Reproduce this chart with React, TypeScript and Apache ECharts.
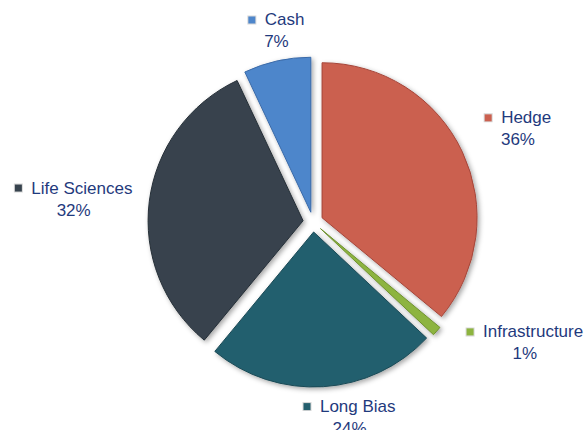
import React, { useEffect, useRef } from 'react';
import * as echarts from 'echarts';

const categories = ['Hedge', 'Infrastructure', 'Long Bias', 'Life Sciences', 'Cash'];
const values = [36, 1, 24, 32, 7];
const colors = ['#CB604F', '#8DB43F', '#245F6E', '#37434E', '#4E86CB'];
const borderColors = ['#A5463A', '#6F9130', '#1A4A56', '#262F37', '#3A6AA8'];
// small per-label adjustments (px) of the label block centre
const labelNudge = [[7, -5], [29, -16], [22, -11], [3, 3], [10, 11]];

const TEXT_COLOR = '#1F3A7D';
const FONT = '"Liberation Sans", Arial, sans-serif';
const CX = 313;
const CY = 222;
const RADIUS = 155;
const OFFSET = 10;
const LABEL_GAP = 20;

export default function App() {
  const ref = useRef<HTMLDivElement>(null);
  useEffect(() => {
    document.body.style.margin = '0';
    const chart = echarts.init(ref.current!, null, { renderer: 'svg' });
    const rich: any = {
      name: { color: TEXT_COLOR, fontSize: 17, fontFamily: FONT, lineHeight: 22 },
      pct: { color: TEXT_COLOR, fontSize: 17, fontFamily: FONT, lineHeight: 22 },
    };
    colors.forEach((c, i) => {
      rich['ic' + i] = { width: 7, height: 7, backgroundColor: c, borderColor: '#d8d8d8', borderWidth: 1 };
    });
    const total = values.reduce((a, b) => a + b, 0);
    const midAngles: number[] = [];
    let acc = 0;
    values.forEach((v) => {
      const start = 90 - (acc / total) * 360;
      acc += v;
      const end = 90 - (acc / total) * 360;
      midAngles.push(((start + end) / 2) * Math.PI / 180);
    });
    chart.setOption({
      animation: false,
      backgroundColor: '#ffffff',
      series: [
        {
          type: 'pie',
          center: [CX, CY],
          radius: RADIUS,
          startAngle: 90,
          clockwise: true,
          selectedMode: 'multiple',
          selectedOffset: OFFSET,
          emphasis: { disabled: true },
          label: { show: false },
          labelLine: { show: false },
          data: categories.map((n, i) => ({
            name: n,
            value: values[i],
            selected: true,
            itemStyle: {
              color: colors[i],
              borderColor: borderColors[i],
              borderWidth: 1,
              shadowBlur: 5,
              shadowColor: 'rgba(0,0,0,0.35)',
              shadowOffsetX: 2,
              shadowOffsetY: 2,
            },
          })),
        },
        {
          type: 'pie',
          center: [CX, CY],
          radius: RADIUS,
          startAngle: 90,
          clockwise: true,
          silent: true,
          avoidLabelOverlap: false,
          emphasis: { disabled: true },
          itemStyle: { color: 'rgba(0,0,0,0)' },
          data: categories.map((n, i) => ({ name: n, value: values[i] })),
          label: {
            show: true,
            position: 'outside',
            color: TEXT_COLOR,
            fontSize: 17,
            fontFamily: FONT,
            lineHeight: 22,
            formatter: (p: any) => `{ic${p.dataIndex}|}{name|  ${p.name}}\n{pct|${Math.round(p.percent)}%}`,
            rich,
          },
          labelLine: { show: false, length: 20, length2: 0 },
          labelLayout: (p: any) => {
            const r = p.labelRect;
            const a = midAngles[p.dataIndex];
            const ux = Math.cos(a);
            const uy = -Math.sin(a);
            const d = RADIUS + OFFSET + LABEL_GAP;
            const n = labelNudge[p.dataIndex] || [0, 0];
            return {
              x: CX + ux * d + (ux * r.width) / 2 + n[0],
              y: CY + uy * d + (uy * r.height) / 2 + n[1],
              align: 'center',
              verticalAlign: 'middle',
            };
          },
        },
      ],
    });
    return () => chart.dispose();
  }, []);
  return <div ref={ref} style={{ width: 587, height: 430 }} />;
}
